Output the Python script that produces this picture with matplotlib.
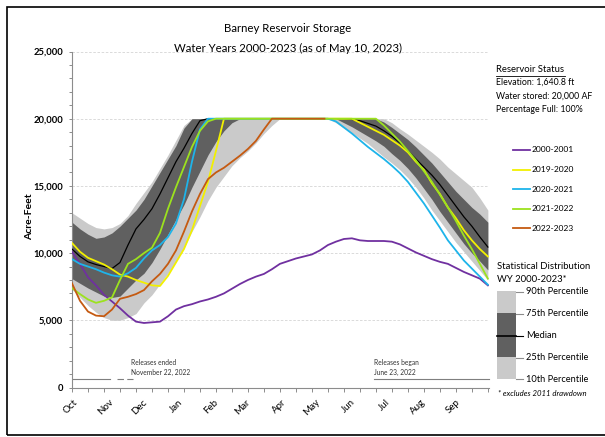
import numpy as np
import matplotlib
matplotlib.use("Agg")
import matplotlib.pyplot as plt
from matplotlib.lines import Line2D
from matplotlib.patches import Rectangle

plt.rcParams['font.family'] = ['Lato', 'DejaVu Sans']

# Day of water year (Oct 1 = day 0), weekly readings
days = np.arange(0, 365, 7)

# Statistical distribution, WY 2000-2023 (excluding 2011)
p10 = [7300, 6700, 6100, 5600, 5200, 5000, 5000, 5200, 5500, 6300, 6900, 7700, 8500,
       9400, 10400, 11600, 12700, 13900, 14900, 15700, 16500, 17100, 17600, 18200, 18900, 19500] \
    + [20000] * 7 \
    + [19700, 19300, 18950, 18550, 18150, 17650, 17150, 16700, 16200, 15600, 14900, 14100,
       13200, 12400, 11600, 10800, 10100, 9400, 8700, 8000]
p25 = [8100, 7750, 7400, 7100, 6800, 6700, 6800, 7400, 8000, 8500, 9300, 10300, 11400,
       12500, 13600, 14900, 16100, 17300, 18300, 19100, 19700] \
    + [20000] * 13 \
    + [19700, 19400, 19050, 18700, 18350, 17950, 17400, 16900, 16300, 15600, 14800, 14000,
       13100, 12300, 11500, 10700, 10000, 9400, 8750]
median = [10300, 9750, 9350, 9150, 9000, 8850, 9300, 10600, 11800, 12500, 13300, 14400,
          15600, 16800, 17800, 18900, 19850] \
    + [20000] * 18 \
    + [19950, 19850, 19650, 19450, 19100, 18700, 18200, 17600, 17000, 16400, 15800, 15100,
       14300, 13500, 12700, 12000, 11200, 10450]
p75 = [12300, 11800, 11400, 11100, 11200, 11500, 12000, 12600, 13200, 14000, 15000, 16000,
       17000, 18000, 19300] \
    + [20000] * 24 \
    + [19750, 19350, 18900, 18450, 17900, 17300, 16700, 16000, 15300, 14600, 14000, 13400,
       12900, 12300]
p90 = [13000, 12600, 12200, 11900, 11800, 11900, 12200, 12800, 13700, 14500, 15300, 16300,
       17300, 18400, 19500] \
    + [20000] * 25 \
    + [19700, 19250, 18850, 18400, 17950, 17500, 17000, 16400, 15900, 15400, 14900, 14100, 13200]

# Individual water years
wy_2001 = [10100, 9200, 8200, 7600, 6900, 6400, 5900, 5350, 4900, 4800, 4850, 4900, 5300,
           5800, 6050, 6200, 6400, 6550, 6750, 7000, 7350, 7700, 8000, 8250, 8450, 8800,
           9200, 9400, 9600, 9750, 9900, 10200, 10600, 10850, 11050, 11100, 10950, 10900,
           10900, 10900, 10850, 10650, 10350, 10050, 9800, 9550, 9350, 9200, 8900, 8600,
           8350, 8100, 7600]
wy_2020 = [10750, 10100, 9650, 9400, 9150, 8800, 8400, 8250, 8000, 7800, 7600, 7550, 8300,
           9300, 10300, 11700, 13500, 15300, 17600] \
    + [20000] * 17 \
    + [19700, 19400, 19100, 18800, 18400, 18000, 17500, 16800, 16200, 15200, 14400, 13400,
       12600, 11700, 10950, 10300, 9750]
wy_2021 = [9550, 9200, 9000, 8800, 8550, 8350, 8250, 8500, 8900, 9600, 10200, 10600, 11200,
           12200, 14000, 16800, 19200] \
    + [20000] * 16 \
    + [19800, 19350, 18900, 18400, 17900, 17450, 17000, 16500, 15950, 15300, 14500, 13700,
       12800, 11900, 10950, 10200, 9450, 8850, 8250, 7650]
wy_2022 = [7400, 6950, 6550, 6300, 6450, 6700, 8000, 9200, 9550, 10000, 10400, 11500, 13300,
           14900, 16400, 17900, 19100, 19800] \
    + [20000] * 21 \
    + [19500, 18900, 18300, 17600, 16900, 16100, 15300, 14350, 13400, 12400, 11300, 10300,
       9200, 8100]
days_2023 = list(days[:32]) + [221]
wy_2023 = [7750, 6450, 5650, 5350, 5300, 5800, 6600, 6750, 6950, 7250, 7900, 8450, 9200,
           10200, 11600, 13100, 14400, 15500, 16000, 16350, 16800, 17250, 17750, 18350,
           19200, 20000] + [20000] * 7

series = [
    ("2000-2001", days, wy_2001, "#7030A0"),
    ("2019-2020", days, wy_2020, "#F2F000"),
    ("2020-2021", days, wy_2021, "#1EB4EA"),
    ("2021-2022", days, wy_2022, "#9CE21E"),
    ("2022-2023", days_2023, wy_2023, "#C55A11"),
]

month_starts = [0, 31, 61, 92, 123, 151, 182, 212, 243, 273, 304, 335]
month_labels = ["Oct", "Nov", "Dec", "Jan", "Feb", "Mar", "Apr", "May", "Jun", "Jul", "Aug", "Sep"]
y_ticks = [0, 5000, 10000, 15000, 20000, 25000]

LIGHT = "#CACACA"
DARK = "#606060"
AXIS = "#8C8C8C"

W, H = 605, 437
fig = plt.figure(figsize=(W / 100, H / 100), dpi=100)


def fx(px):
    return px / W


def fy(py):
    return 1 - py / H


ax = fig.add_axes([fx(72), fy(387.5), (489 - 72) / W, (387.5 - 51.5) / H])
ax.set_xlim(0, 365)
ax.set_ylim(0, 25000)

for v in y_ticks[1:]:
    ax.axhline(v, color="#D4D4D4", lw=0.6, ls=(0, (3, 2)), zorder=0)

ax.fill_between(days, p10, p90, color=LIGHT, lw=0, zorder=1)
ax.fill_between(days, p25, p75, color=DARK, lw=0, zorder=2)
ax.plot(days, median, color="black", lw=0.9, zorder=3)

for name, x, y, c in series:
    ax.plot(x, y, color=c, lw=1.3, zorder=4, solid_joinstyle="round")

for s in ["top", "right"]:
    ax.spines[s].set_visible(False)
for s in ["left", "bottom"]:
    ax.spines[s].set_color(AXIS)
    ax.spines[s].set_linewidth(0.8)

ax.set_yticks(y_ticks)
ax.set_yticklabels([f"{v:,}" for v in y_ticks], fontweight="bold", fontsize=6.8)
ax.set_yticks(np.arange(0, 25001, 1000), minor=True)
ax.tick_params(axis="y", which="both", direction="out", length=2.5, width=0.7,
               color=AXIS, pad=4)

ax.set_xticks(np.arange(0, 365, 14))
ax.set_xticklabels([])
ax.tick_params(axis="x", which="major", direction="out", length=3, width=0.7, color=AXIS)
for d, lab in zip(month_starts, month_labels):
    ax.text(d + 1, -750, lab, rotation=45, ha="right", va="top", rotation_mode="anchor",
            fontsize=7)

# Release periods
rel_c = "#7F7F7F"
ax.plot([0, 33], [600, 600], color=rel_c, lw=0.8)
ax.plot([39, 53], [600, 600], color=rel_c, lw=0.8, ls=(0, (5.8, 3.0)))
ax.plot([264, 365], [600, 600], color=rel_c, lw=0.8, clip_on=False)
ax.text(52, 850, "Releases ended\nNovember 22, 2022", fontsize=4.8, ha="left", va="bottom",
        linespacing=1.5, color="#333333")
ax.text(264, 850, "Releases began\nJune 23, 2022", fontsize=4.8, ha="left", va="bottom",
        linespacing=1.5, color="#333333")

# Titles and axis label
fig.text(fx(288), fy(29), "Barney Reservoir Storage", ha="center", va="center", fontsize=8.2)
fig.text(fx(288), fy(48.5), "Water Years 2000-2023 (as of May 10, 2023)", ha="center",
         va="center", fontsize=8.2)
fig.text(fx(30), fy(217), "Acre-Feet", rotation=90, ha="center", va="center",
         fontsize=7.5, fontweight="bold")

# Reservoir status block
fig.text(fx(496), fy(69), "Reservoir Status", ha="left", va="center", fontsize=6.8)
fig.add_artist(Line2D([fx(496), fx(565)], [fy(75.5), fy(75.5)], color="black", lw=0.6))
status = ["Elevation: 1,640.8 ft", "Water stored: 20,000 AF", "Percentage Full: 100%"]
for i, t in enumerate(status):
    fig.text(fx(496), fy(82.5 + 13.5 * i), t, ha="left", va="center", fontsize=6.3)

# Series legend
for i, (name, x, y, c) in enumerate(series):
    yy = fy(150 + 19.6 * i)
    fig.add_artist(Line2D([fx(513), fx(530)], [yy, yy], color=c, lw=1.3))
    fig.text(fx(532), yy, name, ha="left", va="center", fontsize=6.1)

# Distribution key
fig.text(fx(497), fy(266.5), "Statistical Distribution", ha="left", va="center", fontsize=6.8)
fig.text(fx(497), fy(280), "WY 2000-2023*", ha="left", va="center", fontsize=6.8)
fig.add_artist(Rectangle((fx(497.3), fy(379)), (516 - 497.3) / W, (379 - 290.7) / H,
                         color=LIGHT, lw=0))
fig.add_artist(Rectangle((fx(497.3), fy(357.3)), (516 - 497.3) / W, (357.3 - 313.3) / H,
                         color=DARK, lw=0))
fig.add_artist(Line2D([fx(497.3), fx(516)], [fy(335.5), fy(335.5)], color="black", lw=1.2))
key_labels = ["90th Percentile", "75th Percentile", "Median", "25th Percentile", "10th Percentile"]
key_y = [291.5, 313.5, 335.5, 357.5, 379]
for lab, yy in zip(key_labels, key_y):
    c = "black" if lab == "Median" else "#8C8C8C"
    fig.add_artist(Line2D([fx(516), fx(523)], [fy(yy), fy(yy)], color=c, lw=0.8))
    fig.text(fx(526.5), fy(yy), lab, ha="left", va="center", fontsize=6.7)
fig.text(fx(497.5), fy(394), "* excludes 2011 drawdown", ha="left", va="center",
         fontsize=5.6, style="italic")

# Outer frame
fig.add_artist(Rectangle((fx(7), fy(435)), 1.0, (435 - 6.5) / H, fill=False,
                         edgecolor="black", lw=1.2))

fig.savefig("out.png", dpi=100)
